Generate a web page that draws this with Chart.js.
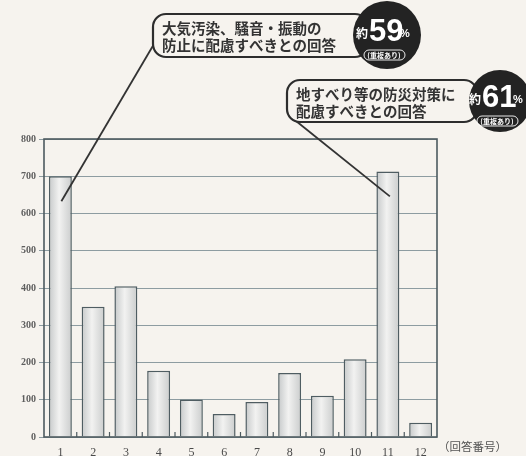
<!DOCTYPE html>
<html>
<head>
<meta charset="utf-8">
<script src="https://cdn.jsdelivr.net/npm/chart.js@4.4.1/dist/chart.umd.min.js"></script>
<style>
  html, body { margin: 0; padding: 0; background: #f6f3ee; }
  canvas { display: block; }
</style>
</head>
<body>
<canvas id="chart" width="526" height="456"></canvas>
<script>
// answer numbers and counts
const categories = ["1", "2", "3", "4", "5", "6", "7", "8", "9", "10", "11", "12"];
const responses = [700, 350, 405, 178, 101, 62, 94, 172, 111, 209, 713, 38];
const yTickStep = 100;
const yMax = 800;
const xAxisNote = "（回答番号）";

// callout texts, the bar each one points at
const calloutLines = [
    ["大気汚染、騒音・振動の", "防止に配慮すべきとの回答"],
    ["地すべり等の防災対策に", "配慮すべきとの回答"]
];
const calloutPercents = ["59", "61"];
const calloutTargets = [0, 10];

const paper = "#f6f3ee";

function barGradient(context) {
    const chart = context.chart;
    if (!chart.chartArea) return "#dddddd";
    const x = chart.scales.x.getPixelForValue(context.dataIndex);
    const g = chart.ctx.createLinearGradient(x - 12, 0, x + 12, 0);
    g.addColorStop(0, "#c4c7c8");
    g.addColorStop(0.45, "#f2f2f1");
    g.addColorStop(1, "#c9cbcb");
    return g;
}

const paperPlugin = {
    id: "paper",
    beforeDraw(chart) {
        const ctx = chart.ctx;
        ctx.save();
        ctx.fillStyle = paper;
        ctx.fillRect(0, 0, chart.width, chart.height);
        ctx.restore();
    }
};

function drawCallout(ctx, box, circle, lines, percent) {
    // box
    ctx.beginPath();
    ctx.roundRect(box.x, box.y, box.w, box.h, 13);
    ctx.fillStyle = paper;
    ctx.fill();
    ctx.lineWidth = 2.2;
    ctx.strokeStyle = "#2d2d2d";
    ctx.stroke();

    ctx.fillStyle = "#333";
    ctx.font = "bold 14.5px 'Noto Sans CJK JP'";
    ctx.textAlign = "left";
    ctx.textBaseline = "middle";
    ctx.fillText(lines[0], box.x + 9, box.y + 14);
    ctx.fillText(lines[1], box.x + 9, box.y + 31);

    // black badge
    const cx = circle.x, cy = circle.y;
    ctx.beginPath();
    ctx.arc(cx, cy, circle.r, 0, Math.PI * 2);
    ctx.fillStyle = "#232323";
    ctx.fill();

    ctx.fillStyle = "#ffffff";
    ctx.font = "bold 12px 'Noto Sans CJK JP'";
    ctx.fillText("約", cx - 31, cy - 2);
    ctx.font = "bold 31px 'Liberation Sans Narrow', 'Liberation Sans'";
    ctx.fillText(percent, cx - 18, cy - 3);
    ctx.font = "bold 11px 'Liberation Sans'";
    ctx.fillText("%", cx + 13, cy - 1);
    ctx.font = "bold 7px 'Noto Sans CJK JP'";
    ctx.textAlign = "center";
    ctx.fillText("(重複あり)", cx - 3, cy + 20);
    ctx.beginPath();
    ctx.roundRect(cx - 23, cy + 15, 41, 10, 5);
    ctx.strokeStyle = "#ffffff";
    ctx.lineWidth = 0.9;
    ctx.stroke();
}

const decorPlugin = {
    id: "decor",
    afterDraw(chart) {
        const ctx = chart.ctx;
        const a = chart.chartArea;
        const xs = chart.scales.x;
        const ys = chart.scales.y;
        ctx.save();

        // plot frame
        ctx.strokeStyle = "#4d5a5f";
        ctx.lineWidth = 1.6;
        ctx.strokeRect(a.left, a.top, a.right - a.left, a.bottom - a.top);

        // little marks between the answers on the base line
        const step = (a.right - a.left) / categories.length;
        ctx.lineWidth = 1.2;
        for (let i = 1; i < categories.length; i++) {
            const x = a.left + i * step;
            ctx.beginPath();
            ctx.moveTo(x, a.bottom);
            ctx.lineTo(x, a.bottom - 5);
            ctx.stroke();
        }

        ctx.fillStyle = "#555";
        ctx.font = "11.5px 'Noto Sans CJK JP'";
        ctx.textAlign = "left";
        ctx.textBaseline = "middle";
        ctx.fillText(xAxisNote, a.right + 1, a.bottom + 10);

        // leader lines to the two tall bars
        const boxes = [
            { x: 153, y: 14, w: 215, h: 43 },
            { x: 287, y: 80, w: 190, h: 42 }
        ];
        const circles = [
            { x: 387, y: 35, r: 34 },
            { x: 500, y: 101, r: 31 }
        ];
        const starts = [
            { x: 154, y: 44 },
            { x: 296, y: 121 }
        ];
        ctx.strokeStyle = "#333";
        ctx.lineWidth = 1.8;
        calloutTargets.forEach((idx, i) => {
            const tx = xs.getPixelForValue(idx) + (i === 0 ? 1 : 2);
            const ty = ys.getPixelForValue(responses[idx]) + 25;
            ctx.beginPath();
            ctx.moveTo(starts[i].x, starts[i].y);
            ctx.lineTo(tx, ty);
            ctx.stroke();
        });

        calloutLines.forEach((lines, i) => {
            drawCallout(ctx, boxes[i], circles[i], lines, calloutPercents[i]);
        });

        ctx.restore();
    }
};

new Chart(document.getElementById("chart"), {
    type: "bar",
    data: {
        labels: categories,
        datasets: [{
            data: responses,
            backgroundColor: barGradient,
            borderColor: "#4f5d62",
            borderWidth: 1.5,
            borderSkipped: "bottom",
            barPercentage: 0.7,
            categoryPercentage: 1.0
        }]
    },
    options: {
        responsive: false,
        animation: false,
        layout: { padding: { top: 139, right: 89, left: 0, bottom: 0 } },
        plugins: {
            legend: { display: false },
            tooltip: { enabled: false }
        },
        scales: {
            x: {
                grid: { display: false },
                border: { display: false },
                ticks: {
                    color: "#4a4a4a",
                    font: { family: "'Liberation Serif'", size: 12 },
                    padding: 1
                },
                afterFit(scale) { scale.height = 19; }
            },
            y: {
                min: 0,
                max: yMax,
                ticks: {
                    stepSize: yTickStep,
                    color: "#5e5e5e",
                    font: { family: "'Liberation Serif'", size: 10, weight: "bold" },
                    padding: 3
                },
                grid: {
                    color: "#8d9ca1",
                    lineWidth: 1,
                    tickLength: 5
                },
                border: { display: false },
                afterFit(scale) { scale.width = 44; }
            }
        }
    },
    plugins: [paperPlugin, decorPlugin]
});
</script>
</body>
</html>
